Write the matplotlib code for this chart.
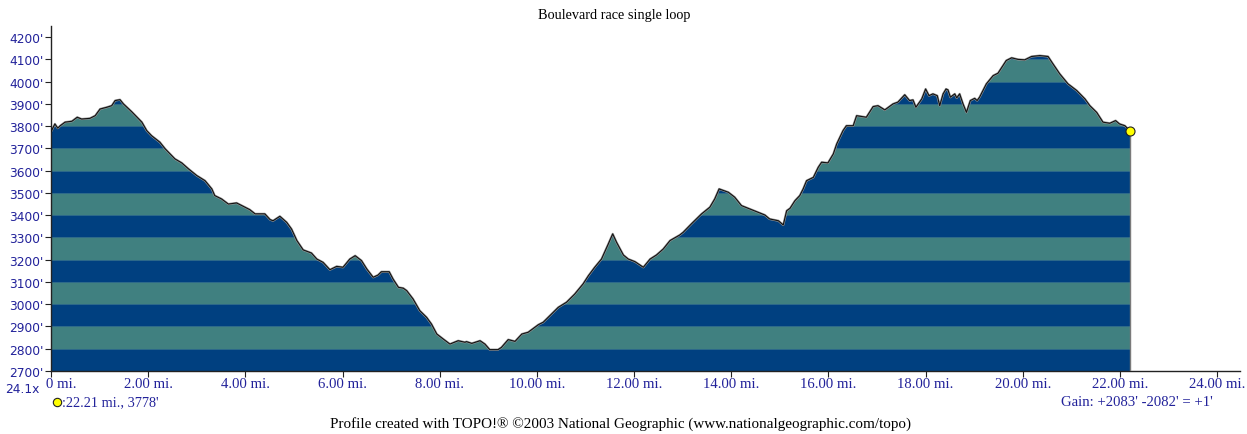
import numpy as np
import matplotlib
matplotlib.use("Agg")
import matplotlib.pyplot as plt
from matplotlib.patches import Polygon
import matplotlib.transforms as mtransforms

title = "Boulevard race single loop"
footer = "Profile created with TOPO!\u00ae \u00a92003 National Geographic (www.nationalgeographic.com/topo)"
gain_text = "Gain: +2083' -2082' = +1'"
marker_text = ":22.21 mi., 3778'"
scale_text = "24.1x"

distance_mi = [
    0.00, 0.08, 0.14, 0.19, 0.29, 0.43, 0.54, 0.63, 0.80, 0.91, 1.01, 1.15, 1.25, 1.32, 1.42, 1.49,
    1.66, 1.87, 1.97, 2.07, 2.24, 2.35, 2.55, 2.69, 2.83, 3.00, 3.17, 3.31, 3.37, 3.51, 3.65, 3.82,
    3.99, 4.09, 4.20, 4.40, 4.51, 4.57, 4.71, 4.85, 4.95, 5.06, 5.19, 5.36, 5.47, 5.60, 5.74, 5.88,
    6.01, 6.15, 6.26, 6.39, 6.50, 6.63, 6.73, 6.80, 6.96, 7.04, 7.15, 7.25, 7.32, 7.45, 7.59, 7.73,
    7.83, 7.94, 8.07, 8.21, 8.38, 8.52, 8.55, 8.66, 8.83, 8.93, 9.03, 9.20, 9.27, 9.41, 9.55, 9.69,
    9.82, 10.03, 10.13, 10.30, 10.44, 10.61, 10.78, 10.95, 11.06, 11.19, 11.33, 11.47, 11.56, 11.64,
    11.78, 11.88, 12.02, 12.19, 12.33, 12.46, 12.60, 12.74, 12.94, 13.01, 13.18, 13.39, 13.56, 13.66,
    13.75, 13.94, 14.07, 14.21, 14.38, 14.55, 14.69, 14.79, 14.97, 15.07, 15.14, 15.21, 15.31, 15.41,
    15.48, 15.55, 15.69, 15.79, 15.86, 15.99, 16.10, 16.17, 16.30, 16.37, 16.51, 16.58, 16.78, 16.92,
    17.02, 17.16, 17.33, 17.43, 17.57, 17.67, 17.74, 17.80, 17.92, 18.00, 18.07, 18.15, 18.24, 18.29,
    18.36, 18.42, 18.46, 18.51, 18.60, 18.64, 18.70, 18.77, 18.84, 18.92, 19.01, 19.06, 19.11, 19.25,
    19.39, 19.49, 19.59, 19.66, 19.77, 19.90, 20.04, 20.18, 20.35, 20.52, 20.62, 20.76, 20.93, 21.11,
    21.28, 21.38, 21.52, 21.65, 21.79, 21.91, 21.99, 22.10, 22.21,
]
elevation_ft = [
    3775, 3810, 3791, 3802, 3818, 3822, 3840, 3832, 3835, 3847, 3877, 3885, 3892, 3915, 3919, 3900,
    3865, 3818, 3780, 3757, 3728, 3698, 3653, 3635, 3608, 3578, 3555, 3518, 3488, 3473, 3450, 3455,
    3436, 3425, 3406, 3406, 3380, 3375, 3395, 3368, 3338, 3286, 3244, 3230, 3203, 3188, 3155, 3170,
    3166, 3203, 3218, 3196, 3158, 3121, 3131, 3146, 3146, 3113, 3076, 3072, 3061, 3024, 2971, 2941,
    2911, 2866, 2844, 2821, 2836, 2829, 2832, 2824, 2836, 2821, 2796, 2796, 2806, 2841, 2833, 2866,
    2874, 2908, 2919, 2956, 2986, 3009, 3046, 3091, 3128, 3166, 3203, 3271, 3316, 3278,
    3221, 3203, 3191, 3166, 3203, 3221, 3248, 3286, 3311, 3323, 3361, 3406, 3436, 3473,
    3518, 3503, 3481, 3443, 3428, 3413, 3401, 3383, 3375, 3356, 3420, 3431, 3465, 3488,
    3518, 3555, 3570, 3615, 3638, 3635, 3675, 3720, 3780, 3802, 3802, 3847, 3840, 3888,
    3892, 3873, 3900, 3908, 3941, 3915, 3918, 3885, 3922, 3967, 3937, 3945, 3937, 3892,
    3945, 3967, 3963, 3930, 3945, 3927, 3945, 3900, 3862, 3915, 3925, 3915, 3930, 3990,
    4027, 4038, 4072, 4095, 4107, 4100, 4098, 4113, 4117, 4113, 4080, 4035, 3990, 3960,
    3922, 3892, 3862, 3818, 3813, 3825, 3810, 3802, 3778,
]

y_ticks = list(range(2700, 4201, 100))
y_tick_labels = [f"{v}'" for v in y_ticks]
x_ticks = list(range(0, 25, 2))
x_tick_labels = ["0 mi."] + [f"{v:.2f} mi." for v in x_ticks[1:]]

DARK = "#004080"
TEAL = "#408080"
NAVY = "#22229a"

x = np.array(distance_mi)
y = np.array(elevation_ft)

W, H = 1247, 435
fig = plt.figure(figsize=(W / 100, H / 100), dpi=100)
ax = fig.add_axes([51 / W, 1 - 372 / H, (1240 - 51) / W, (372 - 27) / H])
ax.set_xlim(0, 24.47)
ax.set_ylim(2700, 4250)

base = 2700
verts = np.column_stack([np.r_[x, x[-1], x[0]], np.r_[y, base, base]])
clip = Polygon(verts, closed=True, facecolor="none", edgecolor="none", transform=ax.transData)
ax.add_patch(clip)

for i, lo in enumerate(range(2700, 4250, 100)):
    col = DARK if i % 2 == 0 else TEAL
    band = ax.axhspan(lo, lo + 100, color=col, lw=0, zorder=1)
    band.set_clip_path(clip)
    ln = ax.axhline(lo, color="#2e6a8a", lw=0.7, zorder=1.5)
    ln.set_clip_path(clip)

ax.plot(x, y, color="#9a9a9a", lw=1.6, zorder=2, solid_joinstyle="round")
ax.plot(x, y, color="#111111", lw=0.8, zorder=3, solid_joinstyle="round")
ax.plot([x[-1], x[-1]], [y[-1], base], color="#7a7a7a", lw=1.0, zorder=3)
ax.plot([x[-1]], [y[-1]], marker="o", ms=6.5, mfc="#ffff00", mec="#222222", mew=0.8, zorder=5, clip_on=False)

for s in ["top", "right"]:
    ax.spines[s].set_visible(False)
for s in ["left", "bottom"]:
    ax.spines[s].set_color("#222222")
    ax.spines[s].set_linewidth(1.0)

ax.set_yticks(y_ticks)
ax.set_yticklabels(y_tick_labels, family="DejaVu Sans", fontsize=8.8, color=NAVY)
ax.set_xticks(x_ticks)
ax.set_xticklabels(x_tick_labels, family="Liberation Serif", fontsize=10.6, color=NAVY)
ax.tick_params(axis="both", direction="out", length=4, width=0.8, color="#222222", pad=1.5)
ax.tick_params(axis="x", pad=0.5)
first = ax.get_xticklabels()[0]
first.set_horizontalalignment("left")
first.set_transform(first.get_transform() + mtransforms.ScaledTranslation(-5 / 100, 0, fig.dpi_scale_trans))

fig.text(614 / W, 1 - 16 / H, title, ha="center", va="center", family="Liberation Serif", fontsize=10.3, color="black")
fig.text(621 / W, 1 - 424 / H, footer, ha="center", va="center", family="Liberation Serif", fontsize=10.9, color="black")
fig.text(5 / W, 1 - 390 / H, scale_text, ha="left", va="center", family="DejaVu Sans", fontsize=8.8, color=NAVY)
fig.text(62 / W, 1 - 403 / H, marker_text, ha="left", va="center", family="Liberation Serif", fontsize=10.3, color=NAVY)
fig.lines.append(plt.Line2D([57 / W], [1 - 403 / H], transform=fig.transFigure, marker="o", ms=6,
                            mfc="#ffff00", mec="#222222", mew=0.8, ls="none"))
fig.text(1213 / W, 1 - 403 / H, gain_text, ha="right", va="center", family="Liberation Serif", fontsize=10.6, color=NAVY)

fig.savefig("out.png", dpi=100, facecolor="white")
